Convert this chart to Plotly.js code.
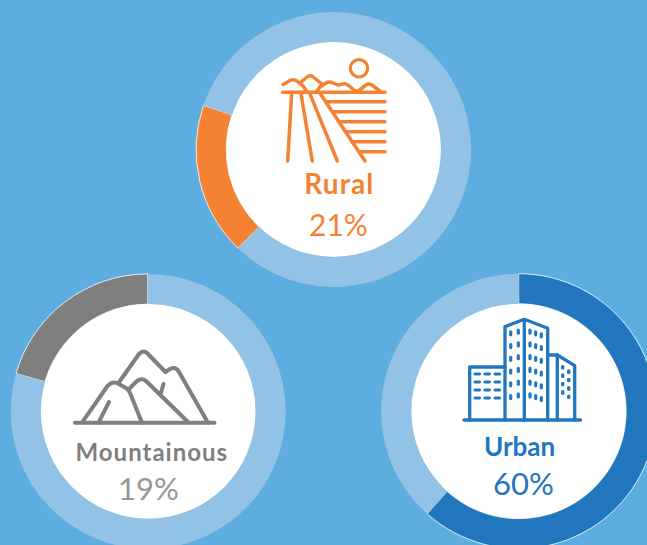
<!DOCTYPE html>
<html>
<head>
<meta charset="utf-8">
<script src="https://cdn.plot.ly/plotly-3.0.1.min.js"></script>
<style>
html,body{margin:0;padding:0;width:647px;height:545px;overflow:hidden;background:#5DADE0}
#c{width:660px;height:560px}
.shapelayer path{stroke-linejoin:round;stroke-linecap:round}
</style>
</head>
<body>
<div id="c"></div>
<script>
var categories = ['Rural', 'Mountainous', 'Urban'];
var percentLabels = ['21%', '19%', '60%'];
// share of the ring that the coloured arc covers, as measured in the picture
var arcShare = [18.0, 20.5, 61.6];
var arcStart = [224, 286, 0];
var arcColors = ['#F58233', '#7F7F80', '#2176BD'];
var pctColors = ['#F58233', '#979797', '#2176BD'];
var ringColor = '#92C2E5';
var bgColor = '#5DADE0';

var W = 660, H = 560, R = 137.5, r = 107.4;
var centers = [[333.6, 149.5], [148.2, 411.4], [518.7, 411.2]];

var nameText = [
  {x: 339.5, y: 193, size: 28, sp: 1.1},
  {x: 152, y: 460.7, size: 24, sp: 1},
  {x: 519.5, y: 456, size: 26, sp: 0}
];
var pctText = [
  {x: 338, y: 235, size: 30, sp: 0},
  {x: 148, y: 499, size: 31, sp: 0},
  {x: 523.7, y: 494, size: 31, sp: 0}
];

var data = [{type: 'scatter', x: [], y: [], hoverinfo: 'skip', showlegend: false}];
categories.forEach(function (c, i) {
  var cx = centers[i][0], cy = centers[i][1];
  data.push({
    type: 'pie', name: c, sort: false, direction: 'clockwise',
    values: [arcShare[i], 100 - arcShare[i]], labels: [c, 'Other'],
    rotation: arcStart[i], hole: r / R, textinfo: 'none', hoverinfo: 'skip',
    showlegend: false,
    domain: {x: [(cx - R) / W, (cx + R) / W], y: [1 - (cy + R) / H, 1 - (cy - R) / H]},
    marker: {colors: [arcColors[i], ringColor], line: {color: ['#FFFFFF', ringColor], width: [0.8, 0]}}
  });
});

var shapes = [];
function stroke(path, color, w) {
  shapes.push({type: 'path', xref: 'x', yref: 'y', path: path, layer: 'above', fillcolor: 'rgba(0,0,0,0)', line: {color: color, width: w}});
}
centers.forEach(function (c) {
  shapes.push({type: 'circle', xref: 'x', yref: 'y', x0: c[0] - r, x1: c[0] + r, y0: c[1] - r, y1: c[1] + r, fillcolor: '#FFFFFF', line: {width: 0}, layer: 'above'});
});

// Rural icon
var o = arcColors[0];
var ruralIcon = [
  'M282.7 92.3 L385 92.3',
  'M291.7 92.3 L287.7 161', 'M300.7 92.3 L312.3 161', 'M309.3 92.3 L337.3 161', 'M319.3 92.3 L365 161',
  'M325.7 101.7 L385 101.7', 'M332.5 111.7 L385 111.7', 'M339 121.7 L385 121.7', 'M345.5 131.7 L385 131.7', 'M352 141.7 L385 141.7', 'M358.7 151.7 L385 151.7',
  'M283 84.5 L291 80 Q294 79 297 81 L303 86 L307 92',
  'M300 83 L307 77 Q309 75 312 76 L322 84 L317 91',
  'M320 87 L326 83 Q329 81 333 83 L338 85 L343 84 Q345 83 348 85 L354 90 L358 92',
  'M357 92 L366 85 Q369 83 372 85 L381 92'
];
ruralIcon.forEach(function (p) { stroke(p, o, 3.5); });
shapes.push({type: 'circle', xref: 'x', yref: 'y', x0: 350.3, x1: 367.7, y0: 59.6, y1: 77, fillcolor: 'rgba(0,0,0,0)', line: {color: o, width: 3.2}, layer: 'above'});

// Mountain icon
var g = arcColors[1];
var mountainIcon = [
  'M75 422.7 L214.5 422.7',
  'M82 422.7 L107.5 386 Q112 381 117 383 L126 388 Q129 390 130 393 L142 422.7',
  'M98.5 422.7 L109 402',
  'M118.5 383 L139 354 Q144 349 148 354 L165.5 372',
  'M129 389 L136 382 Q141 377 146 381 L188 422',
  'M165.5 372 L170 369 Q176 366 179 372 L208 422.7',
  'M163.5 384 L160.5 394'
];
mountainIcon.forEach(function (p) { stroke(p, g, 4); });

// Urban icon
var b = arcColors[2];
var urbanIcon = [
  'M464 420 L580.5 420',
  'M469.7 420 L469.7 367 L505 367',
  'M505 420 L505 326.7 L524.3 319.3 L547.7 328.3 L547.7 420',
  'M524.3 319.3 L524.3 420',
  'M547.7 355 L557.3 355 L574.7 365.7 L574.7 420',
  'M557.3 355 L557.3 420'
];
urbanIcon.forEach(function (p) { stroke(p, b, 3.3); });
[374, 382, 390, 398].forEach(function (y) {
  [[475, 479.5], [485, 489.5], [495, 499.5]].forEach(function (x) {
    stroke('M' + x[0] + ' ' + y + ' L' + x[1] + ' ' + y, b, 3);
  });
});
var winX = [510.7, 518.3, 530, 535.7, 541.3];
var winY = [333.3, 331.7, 331.7, 333.3, 335.3];
for (var row = 0; row < 6; row++) {
  winX.forEach(function (x, k) {
    var y = winY[k] + row * 12.75;
    stroke('M' + x + ' ' + (y - 1.5) + ' L' + x + ' ' + (y + 1.5), b, 3.2);
  });
}
[0, 1, 2, 3].forEach(function (row) {
  [[562.7, 367.3], [568.7, 371.7]].forEach(function (p) {
    var y = p[1] + row * 8.4;
    stroke('M' + p[0] + ' ' + (y - 0.7) + ' L' + p[0] + ' ' + (y + 0.7), b, 3.4);
  });
});

var annotations = [];
function label(t, pos, color, bold) {
  annotations.push({
    xref: 'x', yref: 'y', x: pos.x, y: pos.y + pos.size * 0.28, xanchor: 'center', yanchor: 'bottom',
    text: bold ? '<b>' + t + '</b>' : t, showarrow: false, borderpad: 0,
    font: {family: 'Lato, sans-serif', size: pos.size, color: color}
  });
}
categories.forEach(function (c, i) {
  label(c, nameText[i], arcColors[i], true);
  label(percentLabels[i], pctText[i], pctColors[i], false);
});

Plotly.newPlot('c', data, {
  width: W, height: H, autosize: false,
  margin: {l: 0, r: 0, t: 0, b: 0, pad: 0},
  paper_bgcolor: bgColor, plot_bgcolor: bgColor,
  xaxis: {range: [0, W], visible: false, fixedrange: true, domain: [0, 1]},
  yaxis: {range: [H, 0], visible: false, fixedrange: true, domain: [0, 1]},
  showlegend: false, shapes: shapes, annotations: annotations
}, {displayModeBar: false, staticPlot: true}).then(function () {
  // slight tracking so the Lato labels reach the width of the originals
  var nodes = document.querySelectorAll('.annotation-text');
  var all = [];
  categories.forEach(function (c, i) { all.push(nameText[i].sp, pctText[i].sp); });
  nodes.forEach(function (n, i) { if (all[i]) n.style.letterSpacing = all[i] + 'px'; });
});
</script>
</body>
</html>
